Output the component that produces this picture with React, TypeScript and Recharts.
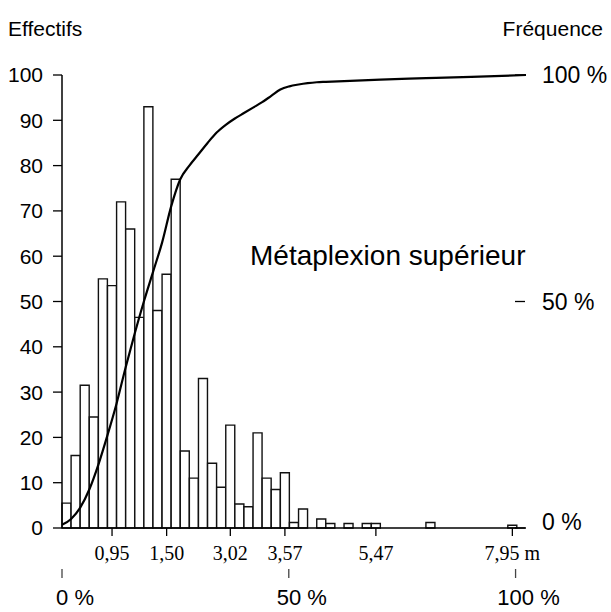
import React from "react";
import { ComposedChart, Bar, Line, XAxis, YAxis } from "recharts";

// effectifs par classe de longueur (51 classes)
const counts = [
  5.5, 16, 31.5, 24.5, 55, 53.5, 72, 66, 46.5, 93, 48, 56, 77, 17, 11, 33, 14.3, 9, 22.7, 5.3,
  4.7, 21, 11, 8.5, 12.2, 1.2, 4.2, 0, 2, 1, 0, 1, 0, 1, 1, 0, 0, 0, 0, 0,
  1.2, 0, 0, 0, 0, 0, 0, 0, 0, 0.6, 0,
];

// fréquence cumulée lue aux bords de classes
const cumulEdges = [
  0, 1, 2, 3, 4, 5, 6, 7, 8, 9, 10, 11, 12, 13, 14, 15, 16, 17, 18, 19, 20, 21, 22, 23, 24, 25,
  26, 27, 28, 29, 35, 40, 45, 51,
];
const cumulPct = [
  0.7, 2, 4.5, 8.5, 14, 20.5, 27.5, 35.5, 43, 50, 56.5, 63, 71, 77, 80, 82.5, 85, 87.3, 89, 90.4,
  91.6, 92.8, 94, 95.4, 96.8, 97.5, 97.9, 98.2, 98.4, 98.5, 99, 99.3, 99.6, 100,
];

const lengthTicks = [5, 11, 18, 24, 34, 49];
const lengthLabels = ["0,95", "1,50", "3,02", "3,57", "5,47", "7,95 m"];
const effectifTicks = [0, 10, 20, 30, 40, 50, 60, 70, 80, 90, 100];
const freqTicks = [0, 50, 100];
const pctTicks = [0, 50, 100];

const bins = counts.map((n, i) => ({ bin: i, n }));
const cumul = cumulEdges.map((x, i) => ({ x, pct: cumulPct[i] }));
const pctRow = pctTicks.map((p) => ({ p, v: null }));

const SANS = "'Liberation Sans', Arial, Helvetica, sans-serif";
const SERIF = "'Liberation Serif', 'Times New Roman', serif";

function FreqTick({ x, y, payload }: any) {
  const shift = payload.value === 0 ? -6 : 0;
  return (
    <g>
      <line x1={x - 11} x2={x - 1} y1={y} y2={y} stroke="#000" strokeWidth={1.3} />
      <text x={x + 16} y={y + shift} dy="0.36em" fontSize={23} fill="#000" fontFamily={SANS}>
        {payload.value} %
      </text>
    </g>
  );
}

function PctTick({ x, y, payload }: any) {
  return (
    <text x={x + 13} y={y} dy="0.72em" textAnchor="middle" fontSize={22} fill="#000" fontFamily={SANS}>
      {payload.value} %
    </text>
  );
}

export default function App() {
  return (
    <div style={{ position: "absolute", left: 0, top: 0, fontFamily: SANS, background: "#fff" }}>
      <ComposedChart
        width={611}
        height={612}
        data={bins}
        margin={{ top: 75, right: 0, bottom: 0, left: 0 }}
        barCategoryGap={0}
        barGap={0}
      >
        <XAxis
          xAxisId="bins"
          dataKey="bin"
          type="category"
          height={41}
          ticks={lengthTicks}
          interval={0}
          tickFormatter={(v: number) => lengthLabels[lengthTicks.indexOf(v)]}
          tickSize={8}
          tickMargin={10}
          tick={{ fontSize: 20, fill: "#000", fontFamily: SERIF }}
          axisLine={{ stroke: "#000", strokeWidth: 1.5 }}
          tickLine={{ stroke: "#000", strokeWidth: 1.3 }}
        />
        <XAxis xAxisId="edge" type="number" dataKey="x" domain={[0, 51]} allowDataOverflow hide height={0} />
        <XAxis
          xAxisId="pct"
          type="number"
          dataKey="p"
          domain={[0, 102.3]}
          allowDataOverflow
          height={43}
          ticks={pctTicks}
          interval={0}
          axisLine={false}
          tickSize={9}
          tickMargin={11}
          tick={<PctTick />}
          tickLine={{ stroke: "#444", strokeWidth: 1.3 }}
        />
        <YAxis
          yAxisId="left"
          width={62}
          domain={[0, 100]}
          ticks={effectifTicks}
          interval={0}
          tickSize={9}
          tickMargin={10}
          tick={{ fontSize: 21, fill: "#000", fontFamily: SANS }}
          axisLine={{ stroke: "#000", strokeWidth: 1.5 }}
          tickLine={{ stroke: "#000", strokeWidth: 1.3 }}
        />
        <YAxis
          yAxisId="right"
          orientation="right"
          width={85}
          domain={[0, 100]}
          ticks={freqTicks}
          interval={0}
          axisLine={false}
          tickLine={false}
          tickSize={0}
          tickMargin={0}
          tick={<FreqTick />}
        />
        <Bar
          xAxisId="bins"
          yAxisId="left"
          dataKey="n"
          fill="#fff"
          stroke="#111"
          strokeWidth={1.4}
          isAnimationActive={false}
        />
        <Line
          xAxisId="pct"
          yAxisId="right"
          data={pctRow}
          dataKey="v"
          stroke="none"
          dot={false}
          activeDot={false}
          legendType="none"
          isAnimationActive={false}
        />
        <Line
          xAxisId="edge"
          yAxisId="right"
          data={cumul}
          dataKey="pct"
          type="monotone"
          stroke="#000"
          strokeWidth={2.2}
          dot={false}
          activeDot={false}
          isAnimationActive={false}
        />
        <text x={8} y={36} fontSize={21} fill="#000" fontFamily={SANS}>
          Effectifs
        </text>
        <text x={603} y={36} fontSize={21} fill="#000" textAnchor="end" fontFamily={SANS}>
          Fréquence
        </text>
        <text x={250} y={265} fontSize={28} fill="#000" fontFamily={SANS}>
          Métaplexion supérieur
        </text>
      </ComposedChart>
    </div>
  );
}
